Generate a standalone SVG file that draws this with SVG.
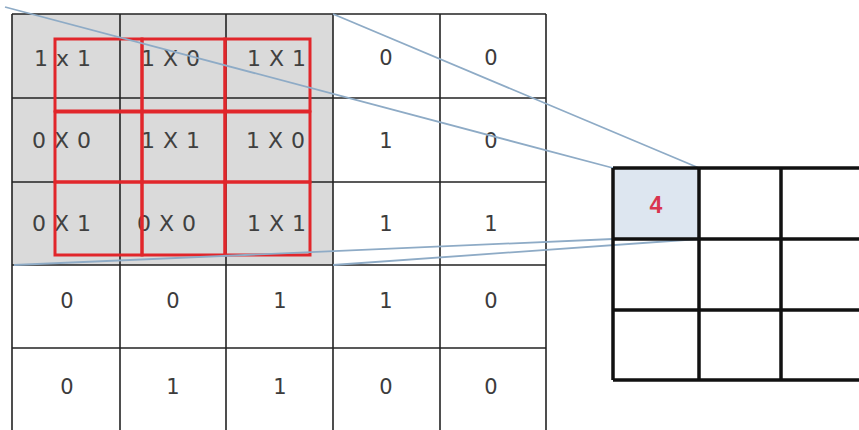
<svg xmlns="http://www.w3.org/2000/svg" width="859" height="430" viewBox="0 0 859 430">
<style>
.g{fill:#dadada}
.num{font-family:"DejaVu Sans",Verdana,sans-serif;font-size:21px;fill:#3c3c3c;text-anchor:middle}
.prod{font-family:"DejaVu Sans",Verdana,sans-serif;font-size:22px;fill:#404040;letter-spacing:8px}
.red{fill:none;stroke:#e1262b;stroke-width:3}
.conn{stroke:#8eabc6;stroke-width:1.8;fill:none}
</style>
<rect width="859" height="430" fill="#fff"/>
<g id="input">
<rect class="g" x="12" y="14" width="321" height="251"/>
<g fill="none" stroke="#222" stroke-width="1.6">
<line x1="12" y1="14" x2="546" y2="14"/>
<line x1="12" y1="98" x2="546" y2="98"/>
<line x1="12" y1="182" x2="546" y2="182"/>
<line x1="12" y1="265" x2="546" y2="265"/>
<line x1="12" y1="348" x2="546" y2="348"/>
<line x1="12" y1="14" x2="12" y2="432"/>
<line x1="120" y1="14" x2="120" y2="432"/>
<line x1="226" y1="14" x2="226" y2="432"/>
<line x1="333" y1="14" x2="333" y2="432"/>
<line x1="440" y1="14" x2="440" y2="432"/>
<line x1="546" y1="14" x2="546" y2="432"/>
</g>
<text class="prod" x="34" y="66">1x1</text>
<text class="prod" x="141" y="66">1X0</text>
<text class="prod" x="247" y="66">1X1</text>
<text class="prod" x="32" y="148">0X0</text>
<text class="prod" x="141" y="148">1X1</text>
<text class="prod" x="246" y="148">1X0</text>
<text class="prod" x="32" y="231">0X1</text>
<text class="prod" x="137" y="231">0X0</text>
<text class="prod" x="247" y="231">1X1</text>
<text class="num" x="386" y="65">0</text>
<text class="num" x="491" y="65">0</text>
<text class="num" x="386" y="148">1</text>
<text class="num" x="491" y="148">0</text>
<text class="num" x="386" y="231">1</text>
<text class="num" x="491" y="231">1</text>
<text class="num" x="67" y="308">0</text>
<text class="num" x="173" y="308">0</text>
<text class="num" x="280" y="308">1</text>
<text class="num" x="386" y="308">1</text>
<text class="num" x="491" y="308">0</text>
<text class="num" x="67" y="394">0</text>
<text class="num" x="173" y="394">1</text>
<text class="num" x="280" y="394">1</text>
<text class="num" x="386" y="394">0</text>
<text class="num" x="491" y="394">0</text>
</g>
<g id="kernel">
<rect class="red" x="55" y="39" width="87" height="72"/>
<rect class="red" x="142" y="39" width="83" height="72"/>
<rect class="red" x="225" y="39" width="85" height="72"/>
<rect class="red" x="55" y="112" width="87" height="70"/>
<rect class="red" x="142" y="112" width="83" height="70"/>
<rect class="red" x="225" y="112" width="85" height="70"/>
<rect class="red" x="55" y="182" width="87" height="73"/>
<rect class="red" x="142" y="182" width="83" height="73"/>
<rect class="red" x="225" y="182" width="85" height="73"/>
</g>
<g id="connectors">
<line class="conn" x1="5" y1="7" x2="613" y2="168"/>
<line class="conn" x1="333" y1="14" x2="699" y2="168"/>
<line class="conn" x1="14" y1="265" x2="613" y2="239"/>
<line class="conn" x1="333" y1="265" x2="699" y2="239"/>
</g>
<g id="output">
<rect x="613" y="168" width="86" height="71" fill="#dde6f0"/>
<g fill="none" stroke="#111" stroke-width="3.5">
<line x1="613" y1="168" x2="870" y2="168"/>
<line x1="613" y1="239" x2="870" y2="239"/>
<line x1="613" y1="310" x2="870" y2="310"/>
<line x1="613" y1="380" x2="870" y2="380"/>
<line x1="613" y1="168" x2="613" y2="380"/>
<line x1="699" y1="168" x2="699" y2="380"/>
<line x1="781" y1="168" x2="781" y2="380"/>
</g>
<text x="656" y="213" font-family="Liberation Sans,Arial,sans-serif" font-size="23" font-weight="bold" fill="#d9344f" text-anchor="middle">4</text>
</g>
</svg>
